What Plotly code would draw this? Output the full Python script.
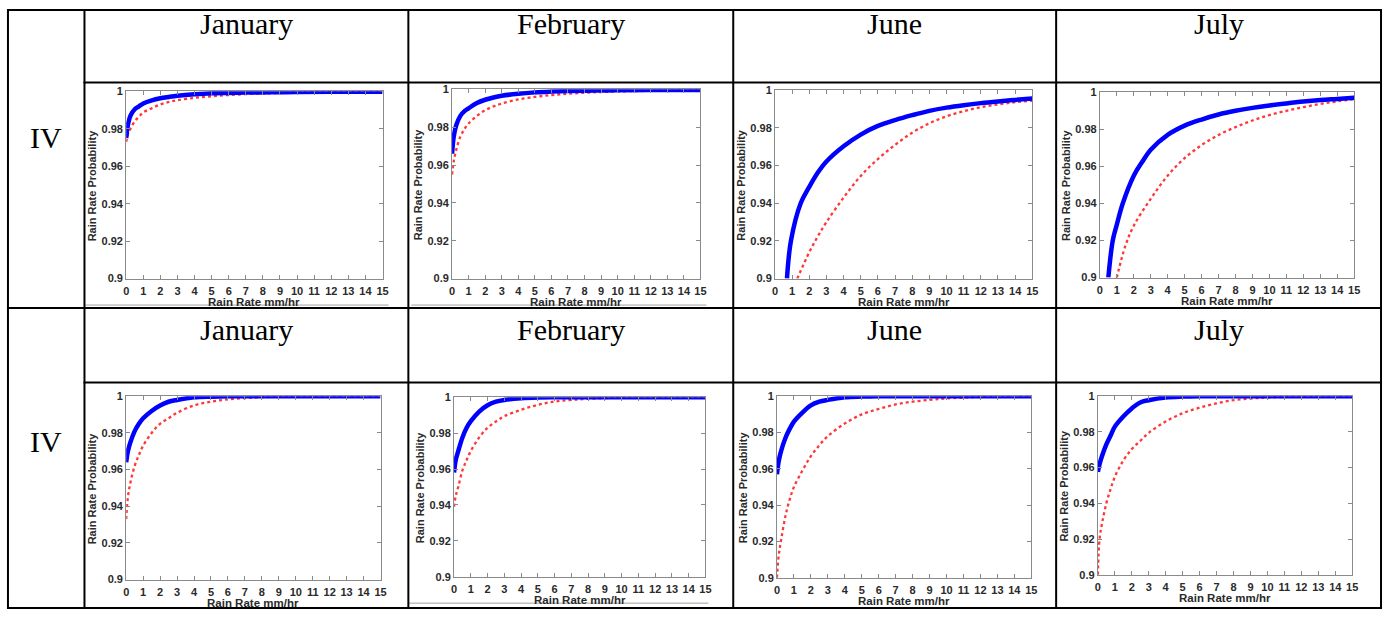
import plotly.graph_objects as go

W, H = 1390, 617

# ---------------- data ----------------
months = ["January", "February", "June", "July"]
row_labels = ["IV", "IV"]
x_tick_labels = [str(i) for i in range(16)]
y_tick_vals = [0.9, 0.92, 0.94, 0.96, 0.98, 1.0]
y_tick_labels = ["0.9", "0.92", "0.94", "0.96", "0.98", "1"]

rate_grid = [0, 0.1, 0.25, 0.5, 0.75, 1, 1.5, 2, 2.5, 3, 4, 5, 6, 7, 8, 9, 10, 12, 15]

# Row 1
r1_jan_blue = [0.975, 0.982, 0.987, 0.9904, 0.992, 0.9935, 0.9952, 0.9963, 0.997, 0.9976, 0.9984, 0.9989, 0.9991, 0.9993, 0.9994, 0.9995, 0.9996, 0.9997, 0.9998]
r1_jan_red = [0.973, 0.977, 0.980, 0.984, 0.9865, 0.9887, 0.991, 0.993, 0.9943, 0.9953, 0.9965, 0.9974, 0.998, 0.9985, 0.9989, 0.9991, 0.9993, 0.9995, 0.9997]

r1_feb_blue = [0.966, 0.975, 0.981, 0.986, 0.9885, 0.990, 0.9928, 0.9945, 0.9957, 0.9966, 0.9977, 0.9984, 0.9988, 0.9991, 0.9993, 0.9994, 0.9995, 0.9996, 0.9997]
r1_feb_red = [0.955, 0.962, 0.968, 0.975, 0.979, 0.982, 0.986, 0.989, 0.991, 0.9925, 0.9947, 0.996, 0.997, 0.9977, 0.9982, 0.9986, 0.9989, 0.9992, 0.9995]

r1_jun_blue_x = [0.7, 0.93, 1.5, 2, 2.5, 3, 4, 5, 6, 7, 8, 9, 10, 11, 12, 13, 14, 15]
r1_jun_blue = [0.9, 0.92, 0.94, 0.9487, 0.9563, 0.9622, 0.9703, 0.9765, 0.9811, 0.9842, 0.9868, 0.9891, 0.9908, 0.9921, 0.9932, 0.9941, 0.9949, 0.9957]
r1_jun_red_x = [1.3, 2, 2.5, 3, 4, 5, 6, 7, 8, 9, 10, 11, 12, 13, 14, 15]
r1_jun_red = [0.9, 0.914, 0.9225, 0.930, 0.943, 0.9545, 0.9635, 0.971, 0.9775, 0.9825, 0.9862, 0.9889, 0.991, 0.9925, 0.9937, 0.9945]

r1_jul_blue_x = [0.5, 0.76, 1, 1.35, 2, 2.5, 3, 4, 5, 6, 7, 8, 9, 10, 11, 12, 13, 14, 15]
r1_jul_blue = [0.9, 0.92, 0.9286, 0.94, 0.955, 0.9625, 0.969, 0.977, 0.982, 0.9853, 0.988, 0.990, 0.9916, 0.9929, 0.994, 0.995, 0.9958, 0.9964, 0.997]
r1_jul_red_x = [1, 1.5, 2, 3, 4, 5, 6, 7, 8, 9, 10, 11, 12, 13, 14, 15]
r1_jul_red = [0.9, 0.917, 0.928, 0.9425, 0.955, 0.9645, 0.9715, 0.977, 0.9812, 0.9848, 0.9877, 0.990, 0.992, 0.9937, 0.9951, 0.9963]

# Row 2
r2_jan_blue = [0.964, 0.970, 0.975, 0.981, 0.985, 0.988, 0.992, 0.995, 0.997, 0.998, 0.9994, 0.9998, 1, 1, 1, 1, 1, 1, 1]
r2_jan_red = [0.933, 0.945, 0.953, 0.962, 0.968, 0.973, 0.980, 0.985, 0.988, 0.991, 0.995, 0.997, 0.9983, 0.999, 0.9995, 0.9997, 0.9998, 1, 1]

r2_feb_blue = [0.958, 0.965, 0.970, 0.9776, 0.983, 0.9867, 0.992, 0.9955, 0.9975, 0.9985, 0.9995, 0.9999, 1, 1, 1, 1, 1, 1, 1]
r2_feb_red = [0.939, 0.945, 0.950, 0.9593, 0.965, 0.970, 0.9776, 0.983, 0.9865, 0.9894, 0.993, 0.9958, 0.9976, 0.9985, 0.9991, 0.9995, 0.9998, 1, 1]

r2_jun_blue = [0.957, 0.964, 0.970, 0.977, 0.982, 0.986, 0.991, 0.995, 0.997, 0.998, 0.9994, 0.9998, 1, 1, 1, 1, 1, 1, 1]
r2_jun_red = [0.9, 0.912, 0.921, 0.934, 0.943, 0.950, 0.959, 0.967, 0.973, 0.978, 0.985, 0.990, 0.993, 0.9955, 0.997, 0.998, 0.9988, 0.9996, 1]

r2_jul_blue = [0.9576, 0.962, 0.9667, 0.973, 0.978, 0.983, 0.9887, 0.9932, 0.9965, 0.9978, 0.9993, 0.9998, 1, 1, 1, 1, 1, 1, 1]
r2_jul_red = [0.9, 0.92, 0.929, 0.940, 0.948, 0.9548, 0.964, 0.9704, 0.975, 0.9795, 0.9859, 0.9905, 0.9936, 0.996, 0.9978, 0.9987, 0.9993, 0.9998, 1]

panels_data = [
    (rate_grid, r1_jan_blue, rate_grid, r1_jan_red),
    (rate_grid, r1_feb_blue, rate_grid, r1_feb_red),
    (r1_jun_blue_x, r1_jun_blue, r1_jun_red_x, r1_jun_red),
    (r1_jul_blue_x, r1_jul_blue, r1_jul_red_x, r1_jul_red),
    (rate_grid, r2_jan_blue, rate_grid, r2_jan_red),
    (rate_grid, r2_feb_blue, rate_grid, r2_feb_red),
    (rate_grid, r2_jun_blue, rate_grid, r2_jun_red),
    (rate_grid, r2_jul_blue, rate_grid, r2_jul_red),
]

# ---------------- layout geometry (pixels) ----------------
# plot areas: left, right, top, bottom
boxes = [
    (124, 382, 87, 278), (452, 702, 85, 278), (777, 1036, 86, 278), (1104, 1360, 88, 277),
    (124, 380, 398, 585), (454, 707, 399, 582), (779, 1035, 398, 583), (1102, 1358, 398, 580),
]
col_x = [5, 82, 408, 735, 1060, 1387]
row_y = [4, 78, 308, 384, 614]


def px(x):
    return x / W


def py(y):
    return 1 - y / H


fig = go.Figure()
layout = dict(
    width=W, height=H, margin=dict(l=0, r=0, t=0, b=0),
    paper_bgcolor="white", plot_bgcolor="white", showlegend=False,
)

tick_font = dict(family="Liberation Sans, Arial", size=11, color="#2a2a2a", weight="bold")
xtitle_font = dict(family="Liberation Sans, Arial", size=11.5, color="#2a2a2a", weight="bold")
ytitle_font = dict(family="Liberation Sans, Arial", size=11, color="#2a2a2a", weight="bold")
frame = "#8a8a8a"
annotations = []
shapes = []

for i, ((bx, by, rx, ry), (l, r, t, b)) in enumerate(zip(panels_data, boxes)):
    k = i + 1
    xa = f"x{k}" if k > 1 else "x"
    ya = f"y{k}" if k > 1 else "y"
    fig.add_trace(go.Scatter(x=rx, y=ry, mode="lines", xaxis=xa, yaxis=ya,
                             line=dict(color="rgba(255,20,20,0.85)", width=2.3, dash="dot",
                                       shape="spline", smoothing=1.0)))
    fig.add_trace(go.Scatter(x=bx, y=by, mode="lines", xaxis=xa, yaxis=ya,
                             line=dict(color="#0000ff", width=4.5, shape="spline", smoothing=1.0)))
    xkey = "xaxis" if k == 1 else f"xaxis{k}"
    ykey = "yaxis" if k == 1 else f"yaxis{k}"
    layout[xkey] = dict(
        domain=[px(l), px(r)], anchor=ya, range=[0, 15],
        tickvals=list(range(16)), ticktext=x_tick_labels,
        showline=True, linecolor=frame, linewidth=1, mirror="ticks",
        ticks="inside", ticklen=4, tickcolor=frame, showgrid=False, zeroline=False,
        tickfont=tick_font, fixedrange=True, ticklabelstandoff=2,
    )
    layout[ykey] = dict(
        domain=[py(b), py(t)], anchor=xa, range=[0.9, 1.0],
        tickvals=y_tick_vals, ticktext=y_tick_labels,
        showline=True, linecolor=frame, linewidth=1, mirror="ticks",
        ticks="inside", ticklen=4, tickcolor=frame, showgrid=False, zeroline=False,
        tickfont=tick_font, fixedrange=True,
    )
    annotations.append(dict(text="Rain Rate mm/hr", x=px((l + r) / 2), y=py(b + 24),
                            xref="paper", yref="paper", showarrow=False,
                            xanchor="center", yanchor="middle", font=xtitle_font))
    annotations.append(dict(text="Rain Rate Probability", x=px(l - 34), y=py((t + b) / 2),
                            xref="paper", yref="paper", showarrow=False, textangle=-90,
                            xanchor="center", yanchor="middle", font=ytitle_font))

# header texts
head_font = dict(family="Liberation Serif, Times New Roman", size=30, color="black")
for ri, hy in enumerate([18, 330]):
    for ci, m in enumerate(months):
        cx = (col_x[ci + 1] + col_x[ci + 2]) / 2
        annotations.append(dict(text=m, x=px(cx), y=py(hy), xref="paper", yref="paper",
                                showarrow=False, xanchor="center", yanchor="middle", font=head_font))
for lab, ly in zip(row_labels, [134, 444]):
    annotations.append(dict(text=lab, x=px(43), y=py(ly), xref="paper", yref="paper",
                            showarrow=False, xanchor="center", yanchor="middle", font=head_font))

# faint image-edge lines
for x0, x1, yy in [(83, 388, 305), (411, 708, 305), (408, 710, 609)]:
    shapes.append(dict(type="line", xref="paper", yref="paper", x0=px(x0), x1=px(x1),
                       y0=py(yy), y1=py(yy), line=dict(color="#a0a0a0", width=1)))

# table borders
for xv in col_x:
    shapes.append(dict(type="line", xref="paper", yref="paper", x0=px(xv), x1=px(xv),
                       y0=py(row_y[0]), y1=py(row_y[-1]), line=dict(color="black", width=2)))
for j, yv in enumerate(row_y):
    x0 = col_x[0] if j in (0, 2, 4) else col_x[1]
    shapes.append(dict(type="line", xref="paper", yref="paper", x0=px(x0 - 1), x1=px(col_x[-1] + 1),
                       y0=py(yv), y1=py(yv), line=dict(color="black", width=2)))

layout["annotations"] = annotations
layout["shapes"] = shapes
fig.update_layout(**layout)
fig.write_html("out.html")
